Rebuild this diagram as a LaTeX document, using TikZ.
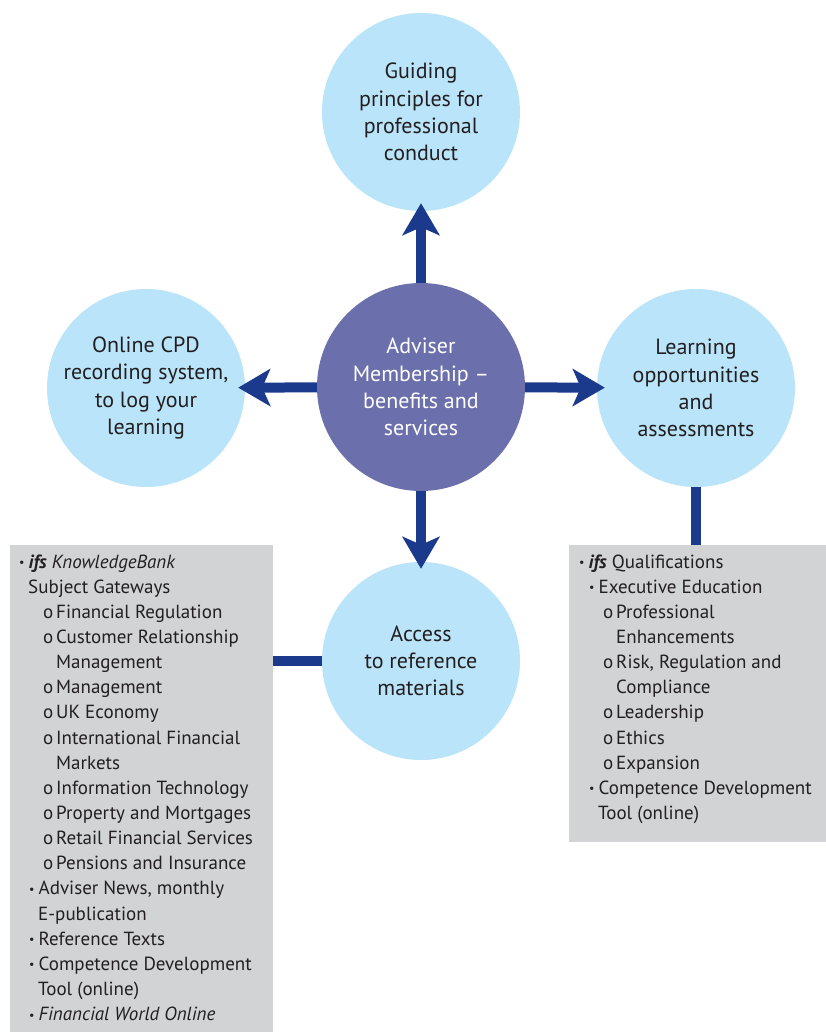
\documentclass[tikz,border=0pt]{standalone}
\usepackage{fontspec}
\setmainfont{PT Sans}
\usetikzlibrary{arrows.meta}
\definecolor{lblue}{HTML}{B9E4F9}
\definecolor{cpurple}{HTML}{6B70AC}
\definecolor{darr}{HTML}{1B3A8C}
\definecolor{bgrey}{HTML}{D1D3D4}
\definecolor{txt}{HTML}{231F20}
\newcommand{\bul}{\makebox[9.5pt][l]{\fontsize{12}{12}\selectfont\raisebox{1.5pt}{\textbullet}}}
\newcommand{\oo}{\makebox[13pt][l]{o}}
\newcommand{\ifs}{\textbf{\textit{ifs}}}
\begin{document}
\begin{tikzpicture}[x=1pt,y=-1pt,
  outer/.style={circle, fill=lblue, minimum size=198pt, inner sep=0pt, align=center, text=txt, font=\fontsize{22}{27.3}\selectfont},
  hub/.style={circle, fill=cpurple, minimum size=208pt, inner sep=0pt, align=center, text=white, font=\fontsize{22}{27.3}\selectfont},
  arr/.style={draw=darr, line width=10pt, -{Stealth[length=32pt,width=37pt,inset=8pt]}},
  conn/.style={draw=darr, line width=10pt},
  panel/.style={fill=bgrey, inner sep=0pt, anchor=north west},
  ln/.style={anchor=base west, inner sep=0pt, text=txt, font=\fontsize{19}{25}\selectfont}]
\useasboundingbox (0,0) rectangle (826,1032);
% panels
\node[panel, minimum width=263pt, minimum height=487pt] (lbox) at (10,545) {};
\node[panel, minimum width=257pt, minimum height=297pt] (rbox) at (569,545) {};
% circles
\node[outer] (t) at (421,112) {Guiding\\principles for\\professional\\conduct};
\node[outer] (l) at (146,388) {Online CPD\\recording system,\\to log your\\learning};
\node[outer] (r) at (696,388) {Learning\\opportunities\\and\\assessments};
\node[outer] (b) at (421,661) {Access\\to reference\\materials};
\node[hub] (c) at (421,387) {Adviser\\Membership –\\benefits and\\services};
% arrows
\draw[arr, shorten >=-8pt] (c) -- (t);
\draw[arr, shorten >=-7pt] (c) -- (l);
\draw[arr, shorten >=-8pt] (c) -- (r);
\draw[arr, shorten >=-7pt] (c) -- (b);
% connectors
\draw[conn] (r.south) -- (r.south |- rbox.north);
\draw[conn] (b.west -| lbox.east) -- (b.west);
% left list
\node[ln] (a1) at (19,568) {\bul\ifs{} \textit{KnowledgeBank}};
\node[ln] (a2) at (28,593.15) {Subject Gateways};
\node[ln] (a3) at (43,618.3) {\oo Financial Regulation};
\node[ln] (a4) at (43,643.45) {\oo Customer Relationship};
\node[ln] (a5) at (56,668.6) {Management};
\node[ln] (a6) at (43,693.75) {\oo Management};
\node[ln] (a7) at (43,718.9) {\oo UK Economy};
\node[ln] (a8) at (43,744.05) {\oo International Financial};
\node[ln] (a9) at (56,769.2) {Markets};
\node[ln] (a10) at (43,794.35) {\oo Information Technology};
\node[ln] (a11) at (43,819.5) {\oo Property and Mortgages};
\node[ln] (a12) at (43,844.65) {\oo Retail Financial Services};
\node[ln] (a13) at (43,869.8) {\oo Pensions and Insurance};
\node[ln] (a14) at (29,894.95) {\bul Adviser News, monthly};
\node[ln] (a15) at (38,920.1) {E-publication};
\node[ln] (a16) at (29,945.25) {\bul Reference Texts};
\node[ln] (a17) at (29,970.4) {\bul Competence Development};
\node[ln] (a18) at (38,995.55) {Tool (online)};
\node[ln] (a19) at (29,1020.7) {\bul\textit{Financial World Online}};
% right list
\node[ln] (b1) at (579,568) {\bul\ifs{} Qualifications};
\node[ln] (b2) at (589,593.15) {\bul Executive Education};
\node[ln] (b3) at (603,618.3) {\oo Professional};
\node[ln] (b4) at (616,643.45) {Enhancements};
\node[ln] (b5) at (603,668.6) {\oo Risk, Regulation and};
\node[ln] (b6) at (616,693.75) {Compliance};
\node[ln] (b7) at (603,718.9) {\oo Leadership};
\node[ln] (b8) at (603,744.05) {\oo Ethics};
\node[ln] (b9) at (603,769.2) {\oo Expansion};
\node[ln] (b10) at (589,794.35) {\bul Competence Development};
\node[ln] (b11) at (598,819.5) {Tool (online)};
\end{tikzpicture}
\end{document}
